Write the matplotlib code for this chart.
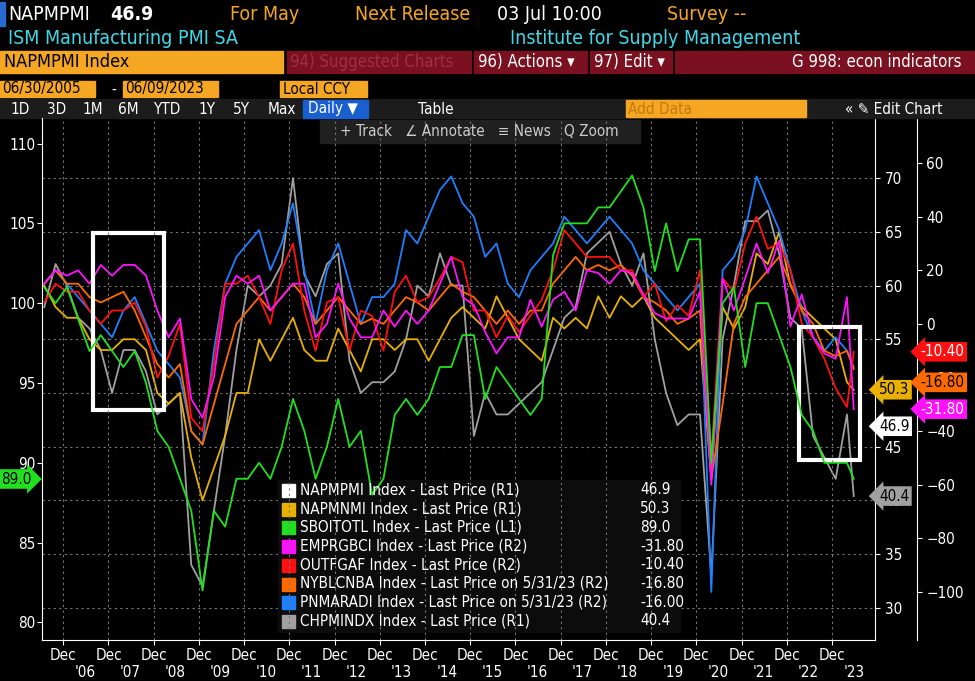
import numpy as np
import matplotlib
matplotlib.use("Agg")
import matplotlib.pyplot as plt
from matplotlib.patches import Rectangle

plt.rcParams['font.family'] = ['DejaVu Sans']
plt.rcParams['font.stretch'] = 'condensed'

# quarterly readings, 2005.5 .. 2023.25, then the last print (May 2023)
dates = list(2005.5 + 0.25 * np.arange(72)) + [2023.4]

napmpmi = [56, 58, 55, 55, 54, 52,
           49.5, 51, 53, 51, 49, 49, 50, 43, 34, 38, 48, 54, 56, 59, 56, 56,
           58, 59, 52, 51, 53, 53, 50, 51, 51, 51, 54, 56, 52, 55, 56, 57,
           53, 52, 52, 50, 48, 50, 52, 52, 55, 57, 57, 59, 59, 59, 60, 58,
           55, 53, 51, 48, 50, 41.5, 54, 59, 60, 61, 61, 61, 58, 56, 53, 50,
           48, 47, 46.9]
napmnmi = [60, 58, 57, 57, 55, 54,
           54, 55, 55, 54, 50, 49, 50, 44, 40, 43, 46, 50, 50, 55, 53, 55,
           57, 54, 53, 53, 56, 54, 52, 55, 55, 54, 55, 55, 53, 55, 57, 58,
           57, 56, 59, 57, 55, 54, 53, 57, 56, 57, 56, 59, 57, 59, 58, 59,
           57, 56, 55, 54, 55, 42, 58, 56, 58, 63, 62, 65, 60, 58, 57, 56,
           55, 51, 50.3]
sboitotl = [101, 100, 101, 99, 97, 98,
            97, 96, 97, 95, 92, 91, 89, 87, 82, 87, 86, 89, 89, 90, 89, 91,
            94, 92, 89, 91, 94, 91, 92, 88, 89, 93, 94, 93, 94, 96, 96, 98,
            98, 94, 96, 95, 94, 93, 94, 103, 105, 105, 105, 106, 106, 107, 108, 106,
            102, 105, 102, 104, 104, 90, 100, 101, 96, 100, 100, 98, 96, 93, 92, 90,
            90, 90, 89.0]
emprgbci = [15, 20, 18, 20, 15, 22,
            18, 22, 22, 18, 5, -5, 2, -28, -35, -20, 10, 18, 15, 18, 5, 10,
            15, 15, -5, 0, 15, 2, -5, -5, 5, -1, 5, 0, 5, 15, 25, 10,
            7, -3, -11, -5, -5, 9, -1, 9, 12, 5, 20, 19, 15, 20, 19, 11,
            4, 2, 2, 2, 12, -60, 17, 5, 17, 30, 19, 31, -1, 11, -5, -11,
            -13, 10, -31.8]
outfgaf = [8, 15, 12, 12, 5, 0,
           5, 5, 8, -1, -20, -12, 0, -35, -40, -15, 15, 15, 18, 10, 0, 20,
           30, 5, -10, 8, 10, -10, 5, 3, -10, 12, 18, 8, 10, 17, 25, 23,
           5, 5, -5, 3, -3, 3, 9, 20, 35, 30, 25, 25, 25, 20, 20, 10,
           15, 1, 7, 3, 20, -50, 17, 12, 30, 40, 28, 30, 20, 0, -5, -13,
           -24, -31, -10.4]
nyblcnba = [15, 20, 15, 15, 10, 8,
            10, 12, 5, -5, -15, -20, -15, -40, -45, -30, -15, 0, 5, 10, 5, 10,
            15, 10, 0, 5, 10, 5, 0, 2, 0, 5, 10, 8, 5, 10, 15, 12,
            10, 5, 0, 5, 0, 5, 5, 15, 20, 25, 20, 22, 20, 22, 18, 10,
            8, 5, 0, 2, 5, -58, -30, 0, 10, 15, 20, 25, 15, 5, 0, -10,
            -12, -10, -16.8]
pnmaradi = [15, 20, 15, 10, 5, 0,
            -5, 5, 10, 0, -10, -15, -20, -40, -45, -10, 15, 25, 30, 35, 20, 30,
            45, 20, 0, 20, 30, 15, 0, 10, 10, 15, 35, 30, 40, 50, 55, 45,
            40, 25, 30, 15, 10, 20, 25, 30, 40, 35, 30, 35, 40, 35, 30, 20,
            15, 10, 5, 10, 15, -100, 20, 25, 35, 55, 45, 35, 20, 5, -5, -10,
            -5, -10, -16.0]
chpmindx = [58, 62, 60, 57, 56, 54,
            50, 54, 54, 52, 48, 49, 50, 34, 32, 39, 46, 54, 60, 59, 60, 62,
            70, 61, 59, 62, 63, 53, 50, 51, 51, 52, 55, 60, 59, 63, 60, 60,
            46, 50, 48, 48, 49, 50, 51, 54, 57, 58, 63, 64, 65, 62, 60, 63,
            55, 50, 47, 48, 48, 33, 55, 60, 66, 66, 67, 63, 57, 56, 46, 44,
            42, 48, 40.4]

W, H = 975, 681
fig = plt.figure(figsize=(9.75, 6.81), dpi=100, facecolor='black')


def px(x, y):
    return x / W, 1 - y / H


def box(x0, y0, x1, y1, color):
    fig.patches.append(Rectangle(px(x0, y1), (x1 - x0) / W, (y1 - y0) / H,
                                 transform=fig.transFigure, color=color, zorder=0))


def ftxt(x, y, s, color, size=12, **kw):
    fig.text(*px(x, y), s, color=color, fontsize=size, va='center', **kw)


# header
box(0, 2, 5, 26, '#2a6ad0')
ftxt(8, 14, 'NAPMPMI', 'white', 14)
ftxt(110, 14, '46.9', 'white', 14, weight='bold')
ftxt(230, 14, 'For May', '#f5a623', 14)
ftxt(355, 14, 'Next Release', '#f5a623', 14)
ftxt(497, 14, '03 Jul 10:00', 'white', 14)
ftxt(667, 14, 'Survey --', '#f5a623', 14)
ftxt(8, 38, 'ISM Manufacturing PMI SA', '#3fd8e8', 14)
ftxt(510, 38, 'Institute for Supply Management', '#3fd8e8', 14)
box(0, 51, 283, 73, '#f5a623')
ftxt(4, 62, 'NAPMPMI Index', 'black', 13)
box(287, 51, 471, 73, '#7a1020')
ftxt(290, 62, '94) Suggested Charts', '#a03040', 12)
box(474, 51, 587, 73, '#7a1020')
ftxt(478, 62, '96) Actions ▾', 'white', 12)
box(590, 51, 672, 73, '#7a1020')
ftxt(594, 62, '97) Edit ▾', 'white', 12)
box(675, 51, 975, 73, '#7a1020')
ftxt(962, 62, 'G 998: econ indicators', 'white', 12, ha='right')
box(0, 81, 95, 97, '#f5a623')
ftxt(2, 89, '06/30/2005', 'black', 11)
ftxt(111, 89, '-', 'white', 11)
box(123, 81, 218, 97, '#f5a623')
ftxt(125, 89, '06/09/2023', 'black', 11)
box(280, 81, 367, 97, '#f5a623')
ftxt(283, 89, 'Local CCY', 'black', 11)
box(0, 99, 975, 118, '#1c1c1c')
for x, s in [(10, '1D'), (47, '3D'), (82, '1M'), (118, '6M'), (153, 'YTD'),
             (198, '1Y'), (233, '5Y'), (268, 'Max')]:
    ftxt(x, 109, s, 'white', 11)
box(303, 100, 368, 118, '#1a5fd0')
ftxt(308, 109, 'Daily ▼', 'white', 11)
ftxt(418, 109, 'Table', 'white', 11)
box(626, 100, 806, 117, '#f5a623')
ftxt(628, 109, 'Add Data', '#c07a10', 11)
ftxt(845, 109, '« ✎ Edit Chart', 'white', 11)
box(320, 120, 640, 143, '#202020')
ftxt(340, 131, '+ Track   ∠ Annotate   ≡ News   Q Zoom', '#cccccc', 11)

# axes
ax = fig.add_axes([42 / W, 1 - 640 / H, 833 / W, 522 / H])
ax.set_facecolor('#0c0c0c')
r1 = ax.twinx()
r2 = ax.twinx()
r2.spines['right'].set_position(('axes', 1.05))
ax.set_zorder(r2.get_zorder() + 1)
ax.patch.set_visible(False)

ax.set_xlim(2005.45, 2023.87)
ax.set_ylim(78.9, 111.6)
r1.set_ylim(27.0, 75.6)
r2.set_ylim(-117.9, 76.8)

r2.plot(dates, pnmaradi, color='#1e7fff', lw=1.3)
r2.plot(dates, nyblcnba, color='#ff6a00', lw=1.3)
r2.plot(dates, outfgaf, color='#ff1010', lw=1.3)
r2.plot(dates, emprgbci, color='#ff10ff', lw=1.3)
r1.plot(dates, chpmindx, color='#a0a0a0', lw=1.3)
r1.plot(dates, napmnmi, color='#e8b000', lw=1.3)
ax.plot(dates, sboitotl, color='#20e020', lw=1.3)
ax.plot(dates, napmpmi, color='white', lw=1.3)

# highlight boxes
ax.add_patch(Rectangle((2006.58, 93.3), 1.57, 11.1, fill=False, ec='white', lw=3))
ax.add_patch(Rectangle((2022.2, 90.2), 1.33, 8.3, fill=False, ec='white', lw=3))

decs = [y + 0.92 for y in range(2005, 2023)]
ax.set_xticks(decs)
ax.set_xticklabels(['Dec'] * len(decs), color='white', fontsize=11)
for y in range(2006, 2024):
    ax.text(y + 0.4, -0.062, "'" + str(y)[2:], transform=ax.get_xaxis_transform(),
            color='white', fontsize=11, ha='center', va='center')
ax.grid(axis='x', color='#777777', ls=(0, (2, 3)), lw=0.8)
r1.set_yticks([30, 35, 40, 45, 50, 55, 60, 65, 70])
r1.grid(axis='y', color='#777777', ls=(0, (2, 3)), lw=0.8)
ax.set_yticks([80, 85, 90, 95, 100, 105, 110])
r2.set_yticks([-100, -80, -60, -40, -20, 0, 20, 40, 60])

for a in (ax, r1, r2):
    a.tick_params(colors='white', labelsize=11)
    for s in a.spines.values():
        s.set_visible(False)
for a, side in ((r1, 'right'), (r2, 'right'), (ax, 'bottom'), (ax, 'left')):
    a.spines[side].set_visible(True)
    a.spines[side].set_color('white')
ax.tick_params(axis='y', pad=1)
ax.tick_params(axis='x', pad=2)

# legend
names = ['NAPMPMI Index - Last Price (R1)', 'NAPMNMI Index - Last Price (R1)',
         'SBOITOTL Index - Last Price (L1)', 'EMPRGBCI Index - Last Price (R2)',
         'OUTFGAF Index - Last Price (R2)', 'NYBLCNBA Index - Last Price on 5/31/23 (R2)',
         'PNMARADI Index - Last Price on 5/31/23 (R2)', 'CHPMINDX Index - Last Price (R1)']
lasts = ['46.9', '50.3', '89.0', '-31.80', '-10.40', '-16.80', '-16.00', '40.4']
colors = ['white', '#e8b000', '#20e020', '#ff10ff', '#ff1010', '#ff6a00', '#1e7fff', '#a0a0a0']
box(278, 480, 680, 632, '#0c0c0c')
for i, (n, v, c) in enumerate(zip(names, lasts, colors)):
    y = 490 + i * 18.7
    box(282, y - 6, 295, y + 7, c)
    ftxt(300, y, n, 'white', 11)
    ftxt(640, y, v, 'white', 11)

# last value tags
tags = [(r2, -10.40, '-10.40', '#ff1010', 'white'), (r2, -16.80 - 5, '-16.80', '#ff6a00', 'black'),
        (r2, -31.80, '-31.80', '#ff10ff', 'white'), (r1, 50.3, '50.3', '#e8b000', 'black'),
        (r1, 46.9, '46.9', 'white', 'black'), (r1, 40.4, '40.4', '#a0a0a0', 'black')]
for a, v, s, bc, tc in tags:
    xpos = 1.055 if a is r2 else 1.005
    a.text(xpos, v, s, transform=a.get_yaxis_transform(), color=tc, fontsize=11,
           va='center', ha='left', zorder=10,
           bbox=dict(boxstyle='larrow,pad=0.15', fc=bc, ec='none'))
ftxt(1, 479, '89.0', 'black', 11, bbox=dict(boxstyle='rarrow,pad=0.15', fc='#20e020', ec='none'))

fig.savefig('out.png', dpi=100, facecolor='black')
